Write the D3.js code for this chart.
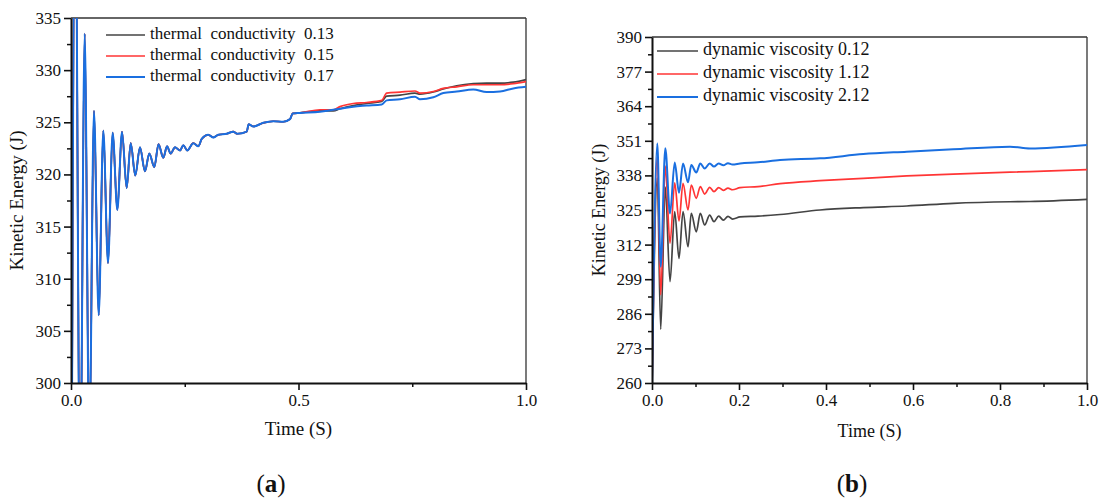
<!DOCTYPE html>
<html>
<head>
<meta charset="utf-8">
<script src="https://cdn.jsdelivr.net/npm/d3@7"></script>
<style>
  body { margin: 0; background: #fff; }
  svg { display: block; }
</style>
</head>
<body>
<svg id="chart" width="1101" height="501" font-family="Liberation Serif, DejaVu Serif, serif"></svg>
<script>
// ---------- Panel (a) data ----------
const timeA = [0, 0.0095, 0.0198, 0.0301, 0.0402, 0.0505, 0.0609, 0.0710, 0.0813, 0.0916,
  0.1018, 0.1121, 0.1224, 0.1312, 0.1413, 0.1516, 0.1626, 0.1721, 0.1831, 0.1923,
  0.2029, 0.2110, 0.2191, 0.2286, 0.2396, 0.2468, 0.2556, 0.2688, 0.2798, 0.2873,
  0.3018, 0.3127, 0.3237, 0.3422, 0.3567, 0.3655, 0.3862, 0.3905, 0.4007, 0.4226,
  0.4446, 0.4666, 0.4813, 0.4873, 0.5033, 0.5473, 0.5765, 0.5912, 0.6204, 0.6499,
  0.6829, 0.6938, 0.7231, 0.7560, 0.7670, 0.7963, 0.8182, 0.8477, 0.8842, 0.9136,
  0.9429, 0.9721, 1.0];
const earlyA = [270, 350, 288, 333.5, 294, 326.1, 306.5, 324.2, 311.5, 324.0,
  316.6, 324.1, 318.7, 323.0, 319.9, 322.6, 320.3, 322.0, 320.7, 322.9,
  321.6, 322.7, 322.0, 322.6, 322.3, 322.8, 322.3, 323.0, 322.7, 323.4,
  323.8, 323.55, 323.8, 323.9, 324.1, 323.9, 324.1, 324.8, 324.6, 324.95,
  325.1, 325.05, 325.3, 325.85, 325.9];
const tailThermal013 = [326.1, 326.1, 326.3, 326.6, 326.8, 327.0, 327.5, 327.6, 327.8, 327.7, 327.9, 328.2, 328.5, 328.7, 328.75, 328.75, 328.85, 329.1];
const tailThermal015 = [326.2, 326.2, 326.5, 326.8, 326.9, 327.1, 327.8, 327.9, 328.0, 327.8, 327.95, 328.25, 328.4, 328.6, 328.6, 328.6, 328.7, 328.9];
const tailThermal017 = [326.0, 326.2, 326.3, 326.5, 326.6, 326.7, 327.1, 327.2, 327.45, 327.2, 327.4, 327.8, 327.95, 328.15, 327.9, 327.95, 328.25, 328.4];
const legendA = ["thermal  conductivity  0.13", "thermal  conductivity  0.15", "thermal  conductivity  0.17"];
const ticksYA = [300, 305, 310, 315, 320, 325, 330, 335];
const ticksXA = [0, 0.5, 1.0];

// ---------- Panel (b) data ----------
const timeB = [0, 0.0122, 0.0200, 0.0306, 0.0414, 0.0522, 0.0621, 0.0713, 0.0828, 0.0903,
  0.1018, 0.1110, 0.1211, 0.1326, 0.1425, 0.1533, 0.1640, 0.1747, 0.1850, 0.2023, 0.2437,
  0.2943, 0.3862, 0.4857, 0.5855, 0.6926, 0.8230, 0.8690, 1.0];
const viscosity012 = [258, 337, 280.2, 333.6, 298.1, 324.4, 306.8, 324.4, 311.2, 323.7,
  316.8, 323.7, 319.4, 323.1, 320.6, 322.7, 321.2, 322.6, 321.6, 322.4, 322.7,
  323.3, 325.0, 325.9, 326.5, 327.5, 328.1, 328.2, 329.0];
const viscosity112 = [258, 345, 293.1, 341.5, 312.5, 335.2, 320.9, 335.0, 325.0, 334.4,
  329.4, 333.8, 331.0, 333.5, 331.9, 333.4, 332.4, 333.2, 332.6, 333.4, 333.8,
  334.9, 336.0, 336.9, 337.8, 338.5, 339.2, 339.4, 340.2];
const viscosity212 = [258, 350.0, 303.7, 348.2, 323.7, 342.8, 331.5, 342.5, 335.4, 341.9,
  339.1, 342.5, 340.6, 342.5, 341.3, 342.5, 341.8, 342.6, 342.1, 342.5, 342.9,
  343.8, 344.4, 346.0, 346.9, 347.8, 348.8, 348.1, 349.4];
const legendB = ["dynamic viscosity 0.12", "dynamic viscosity 1.12", "dynamic viscosity 2.12"];
const ticksYB = [260, 273, 286, 299, 312, 325, 338, 351, 364, 377, 390];
const ticksXB = [0, 0.2, 0.4, 0.6, 0.8, 1.0];

const colors = ["#444444", "#ff3535", "#1a6fe0"];
const FONT = "Liberation Serif, DejaVu Serif, serif";

const svg = d3.select("#chart");

function panel(cfg) {
  const { left, right, top, bottom, xDomain, yDomain, xTicks, xMinor, yTicks, yMinor,
          series, times, legend, legendCfg, fs, labelFs, id, yLabelX, xLabelY, tag, tagX } = cfg;
  const x = d3.scaleLinear().domain(xDomain).range([left, right]);
  const y = d3.scaleLinear().domain(yDomain).range([bottom, top]);
  const g = svg.append("g");

  g.append("clipPath").attr("id", id).append("rect")
    .attr("x", left).attr("y", top).attr("width", right - left).attr("height", bottom - top);

  g.append("line").attr("x1", left).attr("x2", right).attr("y1", top).attr("y2", top)
    .attr("stroke", "#333").attr("stroke-width", 1.3);
  g.append("line").attr("x1", right).attr("x2", right).attr("y1", top).attr("y2", bottom)
    .attr("stroke", "#333").attr("stroke-width", 1.3);

  const line = d3.line().x(d => x(d[0])).y(d => y(d[1])).curve(d3.curveMonotoneX);
  const lg = g.append("g").attr("clip-path", `url(#${id})`);
  series.forEach((vals, i) => {
    const pts = times.map((t, k) => [t, vals[k]]);
    lg.append("path").datum(pts).attr("d", line)
      .attr("fill", "none").attr("stroke", colors[i])
      .attr("stroke-width", i === 2 ? 2 : 1.7).attr("stroke-linejoin", "round");
  });

  g.append("g").attr("transform", `translate(0,${bottom})`)
    .call(d3.axisBottom(x).tickValues(xMinor).tickSize(4).tickFormat("").tickSizeOuter(0))
    .call(a => a.select(".domain").remove())
    .call(a => a.selectAll("line").attr("stroke", "#111").attr("stroke-width", 1.5));
  g.append("g").attr("transform", `translate(${left},0)`)
    .call(d3.axisLeft(y).tickValues(yMinor).tickSize(4).tickFormat("").tickSizeOuter(0))
    .call(a => a.select(".domain").remove())
    .call(a => a.selectAll("line").attr("stroke", "#111").attr("stroke-width", 1.5));

  const xa = g.append("g").attr("transform", `translate(0,${bottom})`)
    .call(d3.axisBottom(x).tickValues(xTicks).tickSize(7).tickPadding(4).tickSizeOuter(0)
      .tickFormat(d3.format(".1f")));
  const ya = g.append("g").attr("transform", `translate(${left},0)`)
    .call(d3.axisLeft(y).tickValues(yTicks).tickSize(7).tickPadding(3).tickSizeOuter(0)
      .tickFormat(d3.format("d")));
  [xa, ya].forEach(a => {
    a.attr("font-family", FONT).attr("font-size", fs);
    a.select(".domain").attr("stroke", "#111").attr("stroke-width", 2);
    a.selectAll(".tick line").attr("stroke", "#111").attr("stroke-width", 1.6);
    a.selectAll(".tick text").attr("fill", "#111");
  });

  g.append("text").attr("transform", `translate(${yLabelX},${(top + bottom) / 2}) rotate(-90)`)
    .attr("text-anchor", "middle").attr("dominant-baseline", "middle")
    .attr("font-size", labelFs).attr("fill", "#111").text("Kinetic Energy (J)");
  g.append("text").attr("x", (left + right) / 2).attr("y", xLabelY)
    .attr("text-anchor", "middle").attr("dominant-baseline", "middle")
    .attr("font-size", labelFs).attr("fill", "#111").text("Time (S)");

  legend.forEach((lab, i) => {
    const cy = legendCfg.y0 + i * legendCfg.dy;
    g.append("line").attr("x1", legendCfg.x1).attr("x2", legendCfg.x2).attr("y1", cy).attr("y2", cy)
      .attr("stroke", colors[i]).attr("stroke-width", i === 2 ? 2 : 1.7);
    g.append("text").attr("x", legendCfg.tx).attr("y", cy).attr("dominant-baseline", "middle")
      .attr("font-size", legendCfg.fs).attr("fill", "#111")
      .style("white-space", "pre").text(lab);
  });

  const tt = g.append("text").attr("x", tagX).attr("y", 486).attr("text-anchor", "middle")
    .attr("dominant-baseline", "middle").attr("font-size", 25).attr("fill", "#111");
  tt.append("tspan").text("(");
  tt.append("tspan").attr("font-weight", "bold").text(tag);
  tt.append("tspan").text(")");
}

panel({
  id: "clipA", left: 71, right: 526, top: 18, bottom: 383,
  xDomain: [0, 1], yDomain: [300, 335],
  xTicks: ticksXA, xMinor: [0.25, 0.75],
  yTicks: ticksYA, yMinor: [302.5, 307.5, 312.5, 317.5, 322.5, 327.5, 332.5],
  series: [earlyA.concat(tailThermal013), earlyA.concat(tailThermal015), earlyA.concat(tailThermal017)],
  times: timeA, legend: legendA,
  legendCfg: { x1: 106, x2: 145, tx: 150, y0: 35, dy: 21, fs: 17 },
  fs: 17, labelFs: 19, yLabelX: 19, xLabelY: 431, tag: "a", tagX: 271
});

panel({
  id: "clipB", left: 652, right: 1087, top: 37, bottom: 383,
  xDomain: [0, 1], yDomain: [260, 390],
  xTicks: ticksXB, xMinor: [0.1, 0.3, 0.5, 0.7, 0.9],
  yTicks: ticksYB, yMinor: [266.5, 279.5, 292.5, 305.5, 318.5, 331.5, 344.5, 357.5, 370.5, 383.5],
  series: [viscosity012, viscosity112, viscosity212],
  times: timeB, legend: legendB,
  legendCfg: { x1: 657, x2: 698, tx: 703, y0: 51, dy: 23, fs: 18 },
  fs: 17, labelFs: 18, yLabelX: 601, xLabelY: 433, tag: "b", tagX: 852
});
</script>
</body>
</html>
